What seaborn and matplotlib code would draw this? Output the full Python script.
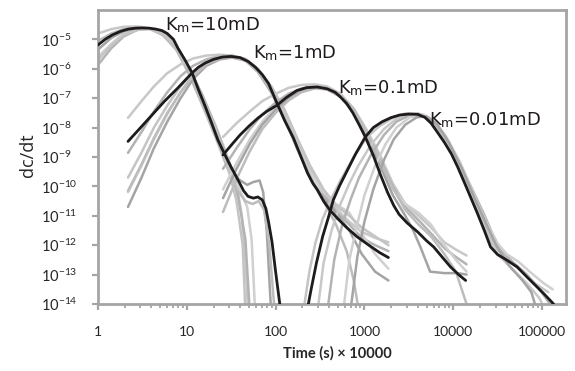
import numpy as np
import pandas as pd
import matplotlib
matplotlib.use("Agg")
import matplotlib.pyplot as plt
import seaborn as sns

# ---------------- data: log10(time), log10(dc/dt) ----------------
labels = ["10mD", "1mD", "0.1mD", "0.01mD"]
label_logx = [0.755, 1.746, 2.70, 3.73]
label_logy = [-4.68, -5.63, -6.82, -7.92]

# black reference curves
k10_x = [0.0, 0.08, 0.16, 0.25, 0.34, 0.42, 0.5, 0.58, 0.65, 0.72, 0.78, 0.85, 0.9, 0.98, 1.06, 1.13,
         1.21, 1.28, 1.35, 1.43, 1.5, 1.58, 1.64, 1.69, 1.75, 1.8, 1.85, 1.89, 1.92, 1.96, 2.0, 2.03, 2.06]
k10_y = [-5.19, -5.0, -4.85, -4.73, -4.65, -4.62, -4.61, -4.62, -4.65, -4.7, -4.8, -5.0, -5.3, -5.7, -6.14, -6.7,
         -7.3, -7.85, -8.42, -8.93, -9.35, -9.8, -10.15, -10.34, -10.4, -10.36, -10.46, -10.75, -11.2, -11.9, -12.9, -13.6, -14.3]
k1_x = [0.338, 0.45, 0.6, 0.75, 0.9, 1.06, 1.13, 1.21, 1.3, 1.4, 1.5, 1.6, 1.69, 1.77, 1.85, 1.92, 1.97, 2.02,
        2.1, 2.2, 2.28, 2.36, 2.42, 2.47, 2.54, 2.61, 2.7, 2.8, 2.92, 3.05, 3.17, 3.27]
k1_y = [-8.47, -8.1, -7.6, -7.1, -6.65, -6.14, -5.95, -5.8, -5.68, -5.6, -5.58, -5.62, -5.75, -5.94, -6.2, -6.5, -6.85, -7.2,
        -7.75, -8.35, -8.95, -9.55, -9.9, -10.12, -10.5, -10.8, -11.1, -11.4, -11.72, -12.0, -12.25, -12.42]
k01_x = [1.408, 1.5, 1.6, 1.7, 1.8, 1.9, 2.02, 2.12, 2.24, 2.35, 2.47, 2.58, 2.67, 2.73, 2.8, 2.87, 2.94, 3.01,
         3.1, 3.18, 3.26, 3.33, 3.39, 3.48, 3.6, 3.7, 3.78, 3.88, 3.97, 4.06, 4.14]
k01_y = [-8.93, -8.6, -8.25, -7.95, -7.68, -7.45, -7.23, -6.98, -6.74, -6.64, -6.62, -6.68, -6.8, -6.96, -7.18, -7.5, -7.9, -8.32,
         -8.95, -9.6, -10.2, -10.65, -10.95, -11.24, -11.55, -11.85, -12.06, -12.42, -12.74, -13.0, -13.2]
k001_x = [2.35, 2.4, 2.46, 2.53, 2.6, 2.65, 2.72, 2.81, 2.9, 3.01, 3.1, 3.2, 3.3, 3.4, 3.5, 3.6, 3.68, 3.75, 3.82,
          3.9, 3.98, 4.05, 4.13, 4.2, 4.27, 4.35, 4.42, 4.5, 4.6, 4.72, 4.82, 4.92, 5.02, 5.13]
k001_y = [-14.3, -13.5, -12.6, -11.7, -11.0, -10.46, -9.98, -9.44, -8.9, -8.32, -8.0, -7.8, -7.66, -7.57, -7.54, -7.55, -7.65, -7.85, -8.15,
          -8.5, -8.9, -9.34, -9.9, -10.4, -10.9, -11.5, -12.06, -12.32, -12.5, -12.74, -13.05, -13.35, -13.65, -14.0]

# grey curves: Km = 10 mD
g10 = [
    ([0, 0.15, 0.29, 0.44, 0.58, 0.73, 0.88, 1.02, 1.17, 1.32, 1.46, 1.56, 1.62, 1.66, 1.69],
     [-4.8, -4.65, -4.57, -4.56, -4.62, -4.85, -5.3, -6.0, -6.9, -7.9, -9.0, -9.9, -11.0, -12.5, -14.3]),
    ([0, 0.15, 0.29, 0.44, 0.58, 0.73, 0.88, 1.02, 1.17, 1.32, 1.46, 1.58, 1.66, 1.71],
     [-5.87, -5.3, -4.9, -4.68, -4.63, -4.75, -5.2, -5.95, -6.85, -7.95, -9.1, -10.4, -11.8, -14.3]),
    ([0, 0.15, 0.29, 0.44, 0.58, 0.73, 0.88, 1.02, 1.17, 1.32, 1.46, 1.58, 1.68, 1.73, 1.77],
     [-5.6, -5.15, -4.8, -4.65, -4.62, -4.78, -5.25, -6.05, -7.05, -8.1, -9.2, -10.0, -10.7, -11.8, -14.3]),
    ([0, 0.15, 0.29, 0.44, 0.58, 0.73, 0.88, 1.02, 1.17, 1.32, 1.46, 1.58, 1.68, 1.75, 1.82, 1.86, 1.9, 1.95],
     [-5.35, -4.95, -4.72, -4.62, -4.63, -4.8, -5.3, -6.1, -7.1, -8.2, -9.2, -9.75, -9.95, -9.85, -9.8, -10.2, -11.5, -14.3]),
    ([0, 0.15, 0.29, 0.44, 0.58, 0.73, 0.88, 1.02, 1.17, 1.32, 1.46, 1.56, 1.66, 1.74, 1.81, 1.87, 1.93, 1.99],
     [-5.05, -4.8, -4.65, -4.6, -4.64, -4.85, -5.35, -6.15, -7.2, -8.3, -9.4, -10.1, -10.5, -10.6, -10.5, -10.8, -12.0, -14.3]),
    ([0, 0.15, 0.29, 0.44, 0.58, 0.73, 0.88, 1.02, 1.17, 1.32, 1.46, 1.56, 1.63, 1.66],
     [-5.7, -5.2, -4.85, -4.68, -4.65, -4.8, -5.25, -6.0, -6.95, -8.0, -9.3, -10.5, -12.0, -14.3]),
]

# grey curves: Km = 1 mD (shared time grid)
g1_time = [0.338, 0.49, 0.63, 0.78, 0.93, 1.07, 1.22, 1.37, 1.51, 1.66, 1.8, 1.95, 2.1, 2.24, 2.39, 2.54, 2.68,
           2.83, 2.97, 3.12, 3.27]
g1_a = [-7.67, -7.1, -6.6, -6.15, -5.85, -5.65, -5.55, -5.52, -5.55, -5.7, -6.05, -6.65, -7.45, -8.4, -9.4, -10.2, -10.75, -11.2, -11.55, -11.75, -11.9]
g1_b = [-8.86, -8.15, -7.45, -6.8, -6.25, -5.9, -5.68, -5.57, -5.56, -5.68, -6.0, -6.6, -7.4, -8.35, -9.35, -10.25, -10.85, -11.3, -11.75, -12.0, -12.2]
g1_c = [-10.2, -9.3, -8.4, -7.55, -6.8, -6.2, -5.8, -5.62, -5.58, -5.7, -6.05, -6.7, -7.55, -8.55, -9.5, -10.2, -10.6, -10.9, -11.6, -12.3, -12.8]
g1_d = [-10.7, -9.7, -8.7, -7.8, -7.0, -6.35, -5.9, -5.68, -5.62, -5.72, -6.1, -6.8, -7.7, -8.7, -9.7, -10.4, -10.9, -11.5, -12.3, -12.9, -13.2]
g1_f = [-9.7, -8.85, -8.0, -7.25, -6.6, -6.1, -5.75, -5.58, -5.55, -5.66, -6.0, -6.6, -7.4, -8.35, -9.3, -10.1, -10.65, -11.0, -11.4, -11.7, -12.0]
g1_e_time = [0.338, 0.49, 0.63, 0.78, 0.93, 1.07, 1.22, 1.37, 1.51, 1.66, 1.8, 1.95, 2.1, 2.24, 2.39, 2.54, 2.68, 2.8, 2.88, 2.94]
g1_e = [-10.15, -9.25, -8.35, -7.5, -6.8, -6.25, -5.85, -5.65, -5.6, -5.72, -6.1, -6.75, -7.65, -8.65, -9.65, -10.5, -11.3, -12.2, -13.2, -14.3]

# grey curves: Km = 0.1 mD (shared time grid)
g01_time = [1.408, 1.56, 1.71, 1.85, 2.0, 2.145, 2.29, 2.44, 2.58, 2.73, 2.88, 3.02, 3.17, 3.32, 3.46, 3.61,
            3.75, 3.9, 4.03, 4.15]
g01_a = [-8.32, -7.85, -7.45, -7.1, -6.85, -6.65, -6.55, -6.53, -6.6, -6.85, -7.35, -8.05, -8.9, -9.9, -10.6, -11.0, -11.4, -11.9, -12.15, -12.35]
g01_b = [-9.4, -8.7, -8.05, -7.55, -7.15, -6.85, -6.67, -6.6, -6.65, -6.9, -7.4, -8.15, -9.05, -10.0, -10.7, -11.15, -11.6, -12.1, -12.4, -12.65]
g01_c = [-10.1, -9.2, -8.4, -7.8, -7.3, -6.95, -6.72, -6.62, -6.66, -6.92, -7.45, -8.25, -9.2, -10.1, -10.6, -10.9, -11.3, -12.0, -12.5, -12.9]
g01_e = [-10.87, -9.75, -8.8, -8.05, -7.5, -7.08, -6.8, -6.67, -6.7, -6.93, -7.42, -8.15, -9.1, -10.05, -10.8, -11.3, -11.7, -12.3, -12.9, -14.0]
g01_d_time = [1.408, 1.56, 1.71, 1.85, 2.0, 2.145, 2.29, 2.44, 2.58, 2.73, 2.88, 3.02, 3.17, 3.32, 3.46, 3.55, 3.63, 3.74, 3.9, 4.05, 4.15]
g01_d = [-10.4, -9.4, -8.55, -7.9, -7.4, -7.0, -6.75, -6.64, -6.7, -6.95, -7.5, -8.3, -9.25, -10.3, -11.0, -11.5, -12.06, -12.9, -12.95, -12.95, -13.0]

# grey curves: Km = 0.01 mD
g001 = [
    ([2.31, 2.38, 2.45, 2.53, 2.63, 2.73, 2.88, 3.02, 3.17, 3.32, 3.46, 3.61, 3.72, 3.85, 4.0, 4.14, 4.29, 4.39, 4.49, 4.63, 4.78, 4.92, 5.07],
     [-14.3, -12.9, -11.9, -11.1, -10.4, -9.8, -9.0, -8.35, -7.95, -7.67, -7.52, -7.52, -7.7, -8.15, -8.9, -9.8, -10.8, -11.6, -12.1, -12.55, -12.9, -13.3, -13.6]),
    ([2.47, 2.54, 2.63, 2.73, 2.83, 2.93, 3.07, 3.22, 3.36, 3.51, 3.63, 3.75, 3.9, 4.05, 4.19, 4.31, 4.41, 4.5, 4.66, 4.83, 4.97, 5.05],
     [-14.3, -12.6, -11.5, -10.6, -9.9, -9.3, -8.6, -8.05, -7.7, -7.55, -7.55, -7.8, -8.4, -9.25, -10.25, -11.1, -11.8, -12.3, -12.8, -13.3, -13.8, -14.3]),
    ([2.58, 2.66, 2.75, 2.85, 2.94, 3.07, 3.22, 3.36, 3.51, 3.63, 3.75, 3.9, 4.05, 4.19, 4.34, 4.44, 4.53, 4.68, 4.83, 4.97, 5.09],
     [-14.3, -12.5, -11.3, -10.4, -9.7, -8.95, -8.25, -7.8, -7.58, -7.55, -7.72, -8.25, -9.05, -9.95, -10.9, -11.6, -12.15, -12.6, -13.0, -13.5, -14.0]),
    ([2.76, 2.83, 2.91, 3.0, 3.12, 3.24, 3.36, 3.51, 3.66, 3.78, 3.92, 4.08, 4.22, 4.37, 4.49, 4.6, 4.73, 4.88, 5.02, 5.12],
     [-14.3, -12.5, -11.4, -10.3, -9.3, -8.55, -8.0, -7.65, -7.55, -7.75, -8.3, -9.2, -10.2, -11.2, -11.9, -12.3, -12.55, -12.95, -13.3, -13.5]),
    ([2.84, 2.92, 3.0, 3.1, 3.22, 3.33, 3.46, 3.59, 3.7, 3.82, 3.95, 4.1, 4.24, 4.39, 4.5, 4.63, 4.78, 4.88, 4.95],
     [-14.3, -12.4, -11.2, -10.1, -9.1, -8.4, -7.9, -7.65, -7.62, -7.9, -8.5, -9.4, -10.4, -11.4, -12.1, -12.7, -13.2, -13.6, -14.3]),
]

grey_shades = ["#c8c8c8", "#b3b3b3", "#d0d0d0", "#a4a4a4", "#bcbcbc", "#c4c4c4"]
black = "#1f1a1b"

grey_curves = list(g10)
grey_curves += [(g1_time, g1_a), (g1_time, g1_b), (g1_time, g1_c), (g1_time, g1_d), (g1_e_time, g1_e), (g1_time, g1_f)]
grey_curves += [(g01_time, g01_a), (g01_time, g01_b), (g01_time, g01_c), (g01_d_time, g01_d), (g01_time, g01_e)]
grey_curves += list(g001)
black_curves = [(k10_x, k10_y), (k1_x, k1_y), (k01_x, k01_y), (k001_x, k001_y)]

rows = []
cid = 0
for i, (lx, ly) in enumerate(grey_curves):
    col = grey_shades[i % len(grey_shades)]
    for a, b in zip(lx, ly):
        rows.append((cid, col, 10.0 ** a, 10.0 ** b, 0))
    cid += 1
for lx, ly in black_curves:
    for a, b in zip(lx, ly):
        rows.append((cid, black, 10.0 ** a, 10.0 ** b, 1))
    cid += 1
df = pd.DataFrame(rows, columns=["curve", "color", "time", "dcdt", "main"])

# ---------------- plotting ----------------
sns.set_style("white")
plt.rcParams["font.family"] = ["Lato", "DejaVu Sans"]
plt.rcParams["mathtext.fontset"] = "custom"
plt.rcParams["mathtext.rm"] = "Lato"
plt.rcParams["mathtext.it"] = "Lato:italic"

fig = plt.figure(figsize=(5.75, 3.71), dpi=100)
ax = fig.add_axes([0.1704, 0.1806, 0.814, 0.7925])

for c, sub in df.groupby("curve", sort=True):
    main = bool(sub["main"].iloc[0])
    sns.lineplot(data=sub, x="time", y="dcdt", color=sub["color"].iloc[0],
                 lw=2.0 if main else 1.8, sort=False, estimator=None, ax=ax,
                 legend=False, zorder=3 if main else 2)

ax.set_xscale("log")
ax.set_yscale("log")
ax.set_xlim(1, 10 ** 5.27)
ax.set_ylim(1e-14, 1e-4)
ax.set_yticks([10.0 ** k for k in range(-14, -4)])
ax.yaxis.set_minor_locator(matplotlib.ticker.NullLocator())
ax.xaxis.set_major_locator(matplotlib.ticker.LogLocator(base=10, numticks=10))
ax.xaxis.set_major_formatter(matplotlib.ticker.FuncFormatter(lambda v, p: f"{int(round(v))}"))
ax.xaxis.set_minor_locator(matplotlib.ticker.LogLocator(base=10, subs=np.arange(2, 10), numticks=40))
ax.xaxis.set_minor_formatter(matplotlib.ticker.NullFormatter())
ax.set_xlabel("")
ax.set_ylabel("")

for s in ax.spines.values():
    s.set_color("#a5a5a5")
    s.set_linewidth(2.0)
ax.tick_params(which="both", bottom=True, left=True, top=False, right=False)
ax.tick_params(axis="both", which="major", direction="out", length=4, width=1.6,
               color="#a5a5a5", labelcolor="#262626")
ax.tick_params(axis="x", which="minor", direction="out", length=3, width=1.3, color="#a5a5a5")
ax.tick_params(axis="x", which="major", pad=12, labelsize=10)
ax.tick_params(axis="y", which="major", pad=37.0, labelsize=10.5)
for t in ax.get_yticklabels():
    t.set_horizontalalignment("left")

fig.text(0.586, 0.035, "Time (s) \u00d7 10000", fontsize=10.5, fontweight="bold",
         color="#262626", ha="center", va="baseline")
fig.text(0.048, 0.582, "dc/dt", fontsize=13, color="#262626", rotation=90,
         ha="center", va="center", family=["Open Sans", "DejaVu Sans"])

for lab, lx, ly in zip(labels, label_logx, label_logy):
    ax.text(10 ** lx, 10 ** ly, r"K$_{\mathregular{m}}$=" + lab, fontsize=13,
            ha="left", va="baseline", color=black, zorder=5,
            family=["DejaVu Sans"])

fig.savefig("out.png", dpi=100)
